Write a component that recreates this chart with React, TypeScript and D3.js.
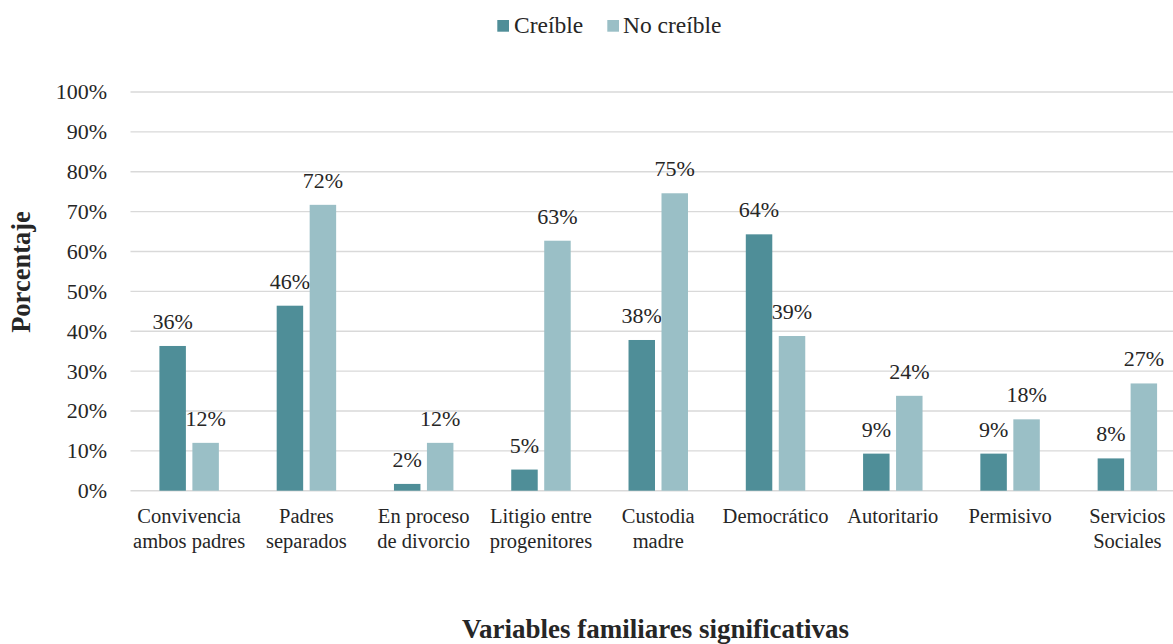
import { useMemo } from "react";
import * as d3 from "d3";

const CATEGORIES = [
  ["Convivencia", "ambos padres"],
  ["Padres", "separados"],
  ["En proceso", "de divorcio"],
  ["Litigio entre", "progenitores"],
  ["Custodia", "madre"],
  ["Democrático"],
  ["Autoritario"],
  ["Permisivo"],
  ["Servicios", "Sociales"],
];
const SERIES = ["Creíble", "No creíble"];
const CREIBLE = [36.3, 46.4, 1.7, 5.3, 37.8, 64.3, 9.3, 9.3, 8.1];
const NO_CREIBLE = [12, 71.7, 12, 62.7, 74.6, 38.8, 23.8, 17.9, 26.9];
const Y_TICKS = [0, 10, 20, 30, 40, 50, 60, 70, 80, 90, 100];

const W = 1173;
const H = 644;
const COLORS = ["#4f8e98", "#9abfc6"];
const TEXT = "#262626";
const FONT = "Liberation Serif, Times New Roman, Times, serif";

export default function App() {
  const keys = CATEGORIES.map((c) => c.join(" "));
  const x = useMemo(
    () => d3.scaleBand<string>().domain(keys).range([130.5, 1186]).paddingInner(0.493).paddingOuter(0.2465),
    []
  );
  const xs = d3.scaleBand<string>().domain(SERIES).range([0, x.bandwidth()]).paddingInner(0.197);
  const y = d3.scaleLinear().domain([0, 100]).range([490.7, 92]);
  const values = [CREIBLE, NO_CREIBLE];

  return (
    <svg width={W} height={H} style={{ position: "absolute", left: 0, top: 0, background: "#fff", fontFamily: FONT }}>
      {/* grid + y ticks */}
      {Y_TICKS.map((t) => (
        <g key={t}>
          <line x1={130.5} x2={W} y1={y(t)} y2={y(t)} stroke="#d9d9d9" strokeWidth={1.4} />
          <text x={107} y={y(t)} dy="0.34em" textAnchor="end" fontSize={22} fill={TEXT}>
            {t}%
          </text>
        </g>
      ))}

      {/* bars */}
      {SERIES.map((s, si) =>
        values[si].map((v, i) => {
          const bx = (x(keys[i]) as number) + (xs(s) as number);
          return (
            <g key={s + i}>
              <rect x={bx} y={y(v)} width={xs.bandwidth()} height={y(0) - y(v)} fill={COLORS[si]} />
              <text x={bx + xs.bandwidth() / 2} y={y(v) - 17} textAnchor="middle" fontSize={22} fill={TEXT}>
                {Math.round(v)}%
              </text>
            </g>
          );
        })
      )}

      {/* category labels */}
      {CATEGORIES.map((lines, i) => (
        <text key={i} textAnchor="middle" fontSize={20.5} fill={TEXT}>
          {lines.map((l, j) => (
            <tspan key={j} x={(x(keys[i]) as number) + x.bandwidth() / 2} y={523 + j * 25}>
              {l}
            </tspan>
          ))}
        </text>
      ))}

      {/* legend */}
      <rect x={497.3} y={20} width={11.7} height={11.7} fill={COLORS[0]} />
      <text x={514} y={32.5} fontSize={23.5} fill={TEXT}>
        {SERIES[0]}
      </text>
      <rect x={607.3} y={20} width={11.7} height={11.7} fill={COLORS[1]} />
      <text x={623} y={32.5} fontSize={23.5} fill={TEXT}>
        {SERIES[1]}
      </text>

      {/* axis titles */}
      <text
        transform={`translate(30,272) rotate(-90)`}
        textAnchor="middle"
        fontSize={26.5}
        fontWeight="bold"
        fill={TEXT}
      >
        Porcentaje
      </text>
      <text x={655.5} y={637.7} textAnchor="middle" fontSize={27} fontWeight="bold" fill={TEXT}>
        Variables familiares significativas
      </text>
    </svg>
  );
}
